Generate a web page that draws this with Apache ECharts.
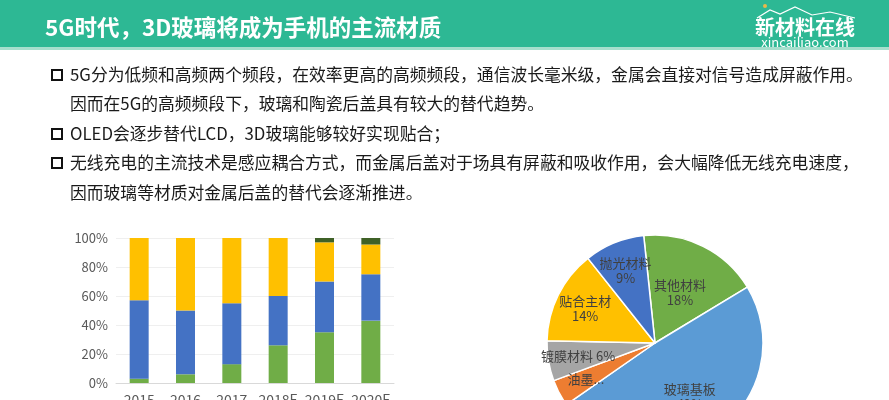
<!DOCTYPE html>
<html><head><meta charset="utf-8">
<script src="https://cdn.jsdelivr.net/npm/echarts@6/dist/echarts.min.js"></script>
<style>html,body{margin:0;padding:0;background:#fff}#c{width:889px;height:400px}</style>
</head><body><div id="c"></div>
<script>
const titleText = '5G时代，3D玻璃将成为手机的主流材质';
const bulletLines = [
  '5G分为低频和高频两个频段，在效率更高的高频频段，通信波长毫米级，金属会直接对信号造成屏蔽作用。',
  '因而在5G的高频频段下，玻璃和陶瓷后盖具有较大的替代趋势。',
  'OLED会逐步替代LCD，3D玻璃能够较好实现贴合；',
  '无线充电的主流技术是感应耦合方式，而金属后盖对于场具有屏蔽和吸收作用，会大幅降低无线充电速度，',
  '因而玻璃等材质对金属后盖的替代会逐渐推进。'
];
const bulletFlags = [true, false, true, true, false];
const years = ['2015', '2016', '2017', '2018E', '2019E', '2020E'];
const seriesGreen = [3, 6, 13, 26, 35, 43];
const seriesBlue = [54, 44, 42, 34, 35, 32];
const seriesYellow = [43, 50, 45, 40, 27, 20.5];
const seriesDark = [0, 0, 0, 0, 3, 4.5];
const yTicks = [0, 20, 40, 60, 80, 100];
const pieNames = ['其他材料', '玻璃基板', '油墨', '镀膜材料', '贴合主材', '抛光材料'];
const pieValues = [18, 49, 4, 6, 14, 9];
const pieColors = ['#70AD47', '#5B9BD5', '#ED7D31', '#A5A5A5', '#FFC000', '#4472C4'];

const chart = echarts.init(document.getElementById('c'), null, {renderer: 'canvas'});
const FONT = '"Noto Sans CJK SC", "Noto Sans", sans-serif';
const PIE_C = [655, 343];

const graphics = [
  {type: 'rect', shape: {x: 0, y: 0, width: 889, height: 47}, style: {fill: '#2DB894'}, z: 0},
  {type: 'rect', shape: {x: 0, y: 47, width: 889, height: 3}, style: {fill: '#A6DFCD'}, z: 0},
  {type: 'text', x: 45, y: 27, style: {text: titleText, fill: '#fff', font: 'bold 22.5px ' + FONT, textVerticalAlign: 'middle'}},
  {type: 'polyline', shape: {points: [[757, 18], [770, 10], [780, 14], [795, 7], [812, 15], [830, 12], [855, 18]]}, style: {stroke: '#fff', lineWidth: 1.2, fill: null}},
  {type: 'circle', shape: {cx: 765, cy: 6, r: 2}, style: {fill: '#E8B84A'}},
  {type: 'text', x: 805, y: 27, style: {text: '新材料在线', fill: '#fff', font: 'bold 20px ' + FONT, textAlign: 'center', textVerticalAlign: 'middle'}},
  {type: 'text', x: 805, y: 42, style: {text: 'xincailiao.com', fill: '#fff', font: '13px ' + FONT, textAlign: 'center', textVerticalAlign: 'middle'}}
];
const lineY = [75, 104, 134, 163, 193];
bulletLines.forEach((t, i) => {
  if (bulletFlags[i]) {
    graphics.push({type: 'rect', shape: {x: 52, y: lineY[i] - 5, width: 10, height: 10}, style: {fill: 'none', stroke: '#111', lineWidth: 2}});
  }
  graphics.push({type: 'text', x: 70, y: lineY[i], style: {text: t, fill: '#1a1a1a', font: '16.8px ' + FONT, textVerticalAlign: 'middle'}});
});

const barCommon = {type: 'bar', stack: 'a', barWidth: 19};
chart.setOption({
  backgroundColor: '#fff',
  animation: false,
  graphic: graphics,
  grid: {left: 116, right: 495, top: 238, bottom: 17, containLabel: false, outerBoundsMode: 'none'},
  xAxis: {
    type: 'category', data: years,
    axisLine: {show: true, lineStyle: {color: '#D9D9D9'}},
    axisTick: {show: false},
    axisLabel: {color: '#595959', fontSize: 14, fontFamily: FONT, margin: 10, interval: 0}
  },
  yAxis: {
    type: 'value', min: 0, max: 100, interval: 20,
    axisLine: {show: false}, axisTick: {show: false},
    splitLine: {lineStyle: {color: '#EFEFEF'}},
    axisLabel: {color: '#595959', fontSize: 13, fontFamily: FONT, margin: 8, formatter: v => yTicks.includes(v) ? v + '%' : ''}
  },
  series: [
    Object.assign({}, barCommon, {name: 'g', data: seriesGreen, itemStyle: {color: '#70AD47'}}),
    Object.assign({}, barCommon, {name: 'b', data: seriesBlue, itemStyle: {color: '#4472C4'}}),
    Object.assign({}, barCommon, {name: 'y', data: seriesYellow, itemStyle: {color: '#FFC000'}}),
    Object.assign({}, barCommon, {name: 'd', data: seriesDark, itemStyle: {color: '#3F6127'}}),
    {
      type: 'pie', center: PIE_C, radius: [0, 108], startAngle: 96, clockwise: true,
      data: pieNames.map((n, i) => ({name: n, value: pieValues[i], itemStyle: {color: pieColors[i]}})),
      itemStyle: {borderColor: '#fff', borderWidth: 1.5},
      label: {
        show: true, position: 'inside', color: '#404040', fontSize: 13, fontFamily: FONT, lineHeight: 15,
        formatter: p => p.value < 5 ? p.name + '...' : (p.value < 8 ? p.name + ' ' + p.value + '%' : p.name + '\n' + p.value + '%')
      },
      labelLayout: function (p) {
        const r = p.labelRect;
        const lx = r.x + r.width / 2, ly = r.y + r.height / 2;
        const dx = lx - PIE_C[0], dy = ly - PIE_C[1];
        const d = Math.sqrt(dx * dx + dy * dy);
        let target = 78;
        if (dx > 0 && dy < 0) target = 56;
        else if (dx > 0 && dy > 0) target = 64;
        const k = target / d;
        return {x: PIE_C[0] + dx * k, y: PIE_C[1] + dy * k};
      }
    }
  ]
});
</script></body></html>
